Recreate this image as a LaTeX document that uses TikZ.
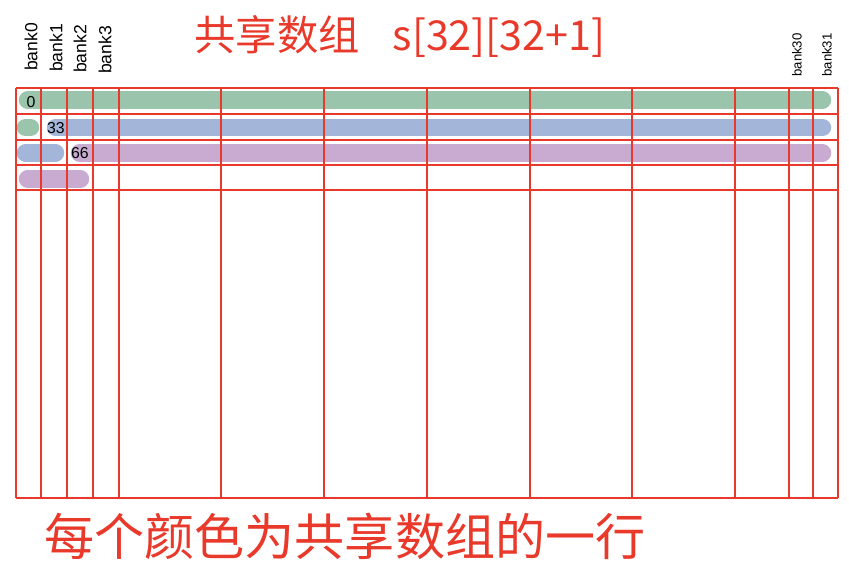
\documentclass[tikz,border=0pt]{standalone}
\usepackage{fontspec}
\setmainfont{Liberation Sans}
\newfontfamily\cjk{Noto Sans CJK SC}
\definecolor{gridred}{RGB}{232,57,43}
\definecolor{rowgreen}{RGB}{155,196,173}
\definecolor{rowblue}{RGB}{163,181,217}
\definecolor{rowpurple}{RGB}{201,171,210}
\usetikzlibrary{positioning}
\tikzset{
  gridline/.style={draw=gridred, line width=1.5pt},
  rowbar/.style={line width=0.35cm, line cap=round},
  banklabel/.style={rotate=90, font=\fontsize{10}{12}\selectfont, text=black, inner sep=0pt},
  celllabel/.style={font=\small, text=black, inner sep=0pt},
  redtitle/.style={text=gridred, font=\cjk\fontsize{23.5}{26}\selectfont, inner sep=0pt}
}
\begin{document}
\begin{tikzpicture}[x=0.02cm, y=-0.02cm]
  \useasboundingbox (0,0) rectangle (849,570);

  % Title
  \node[redtitle] (title) at (400,37) {共享数组\hspace{0.8em}s[32][32+1]};

  % Row bars (one colour per shared array row)
  \draw[rowbar, rowgreen] (27.5,100) -- (822.5,100);
  \draw[rowbar, rowgreen] (25.5,127.5) -- (30.5,127.5);
  \draw[rowbar, rowblue] (55.5,127.5) -- (822.5,127.5);
  \draw[rowbar, rowblue] (25.5,153) -- (55.5,153);
  \draw[rowbar, rowpurple] (79.5,153) -- (822.5,153);
  \draw[rowbar, rowpurple] (27.5,179) -- (80.5,179);

  % Grid
  \foreach \gx in {16,41,67,93,119,221,324,427,530,632,735,789,813,838}
    \draw[gridline] (\gx,88) -- (\gx,498);
  \foreach \gy in {88,114,140,165,190,498}
    \draw[gridline] (16,\gy) -- (838,\gy);

  % Element indices
  \node[celllabel] (e0) at (31,102) {0};
  \node[celllabel] (e33) at (56,128) {33};
  \node[celllabel] (e66) at (80,153) {66};

  % Bank labels
  \node[banklabel] (b0) at (31,47) {bank0};
  \node[banklabel] (b1) at (56,48) {bank1};
  \node[banklabel] (b2) at (80,49) {bank2};
  \node[banklabel] (b3) at (105,50) {bank3};
  \node[banklabel, font=\fontsize{7.5}{9}\selectfont] (b30) at (797,55) {bank30};
  \node[banklabel, font=\fontsize{7.5}{9}\selectfont] (b31) at (827,55) {bank31};

  % Caption
  \node[redtitle, font=\cjk\fontsize{28.5}{32}\selectfont] (caption) at (345,536) {每个颜色为共享数组的一行};
\end{tikzpicture}
\end{document}
